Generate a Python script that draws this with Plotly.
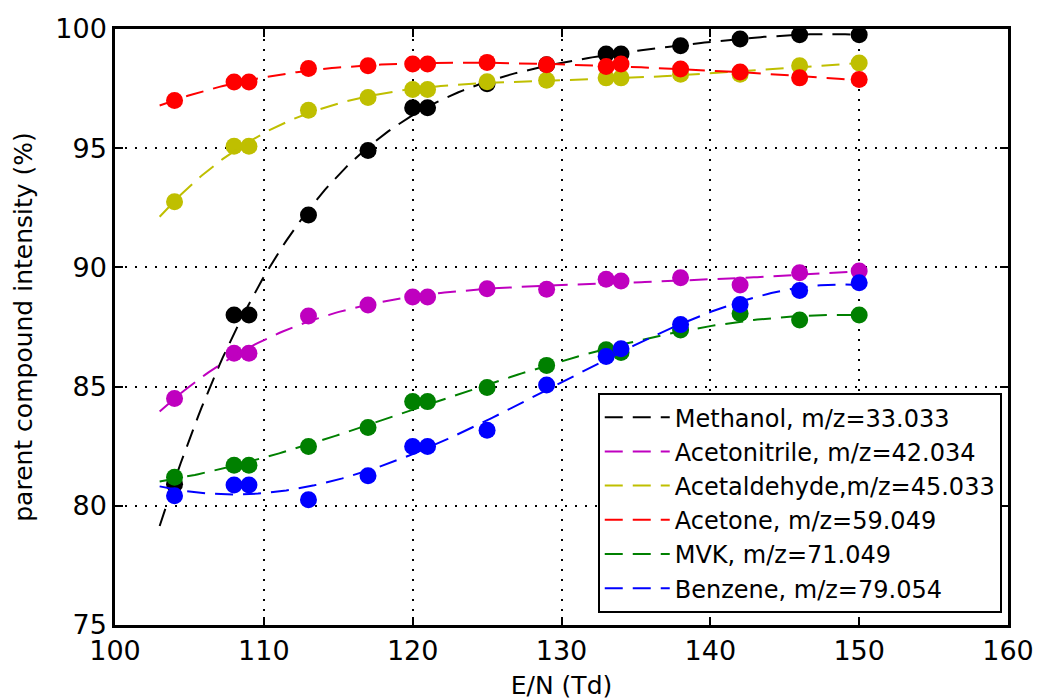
import numpy as np
import plotly.graph_objects as go

# Reduced field strength settings (Td)
en_td = [104, 108, 109, 113, 117, 120, 121, 125, 129, 133, 134, 138, 142, 146, 150]

# Parent compound intensity (%) per compound
methanol = [80.9, 88.0, 88.0, 92.2, 94.9, 96.7, 96.7, 97.7, 98.5, 98.95, 98.95, 99.3, 99.58, 99.76, 99.76]
acetonitrile = [84.5, 86.4, 86.4, 87.96, 88.42, 88.76, 88.76, 89.1, 89.08, 89.5, 89.43, 89.57, 89.26, 89.78, 89.85]
acetaldehyde = [92.75, 95.08, 95.08, 96.59, 97.13, 97.46, 97.46, 97.79, 97.85, 97.95, 97.95, 98.1, 98.1, 98.46, 98.57]
acetone = [97.0, 97.78, 97.78, 98.34, 98.46, 98.53, 98.53, 98.6, 98.5, 98.43, 98.53, 98.32, 98.2, 97.95, 97.88]
mvk = [81.2, 81.7, 81.7, 82.49, 83.28, 84.37, 84.37, 84.96, 85.89, 86.55, 86.43, 87.37, 88.07, 87.79, 88.0]
benzene = [80.42, 80.87, 80.87, 80.25, 81.26, 82.49, 82.49, 83.17, 85.07, 86.26, 86.59, 87.6, 88.44, 89.03, 89.36]

names = [
    "Methanol, m/z=33.033",
    "Acetonitrile, m/z=42.034",
    "Acetaldehyde,m/z=45.033",
    "Acetone, m/z=59.049",
    "MVK, m/z=71.049",
    "Benzene, m/z=79.054",
]
series = [methanol, acetonitrile, acetaldehyde, acetone, mvk, benzene]
colors = ["#000000", "#bf00bf", "#bfbf00", "#ff0000", "#008000", "#0000ff"]

# polynomial fit curves drawn over this E/N span
fit_start, fit_end = 103, 150
fit_degree = 4
x_fit = np.linspace(fit_start, fit_end, 200)

fig = go.Figure()
for name, vals, col in zip(names, series, colors):
    coeffs = np.polyfit(en_td, vals, fit_degree)
    fig.add_trace(go.Scatter(
        x=en_td, y=vals, mode="markers", showlegend=False,
        marker=dict(color=col, size=17, line=dict(width=0)),
        hoverinfo="x+y",
    ))
    fig.add_trace(go.Scatter(
        x=x_fit, y=np.polyval(coeffs, x_fit), mode="lines", name=name,
        line=dict(color=col, width=2, dash="18px,10px"),
    ))

axis_common = dict(
    showline=True, linecolor="black", linewidth=2.5, mirror="ticks",
    ticks="inside", ticklen=8, tickwidth=1.5, tickcolor="black",
    showgrid=True, gridcolor="black", gridwidth=1.5, griddash="2px,8px",
    zeroline=False, automargin=False,
    tickfont=dict(family="DejaVu Sans", size=27, color="black"),
)

fig.update_xaxes(
    range=[100, 160], tickvals=[100, 110, 120, 130, 140, 150, 160],
    title=dict(text="E/N (Td)", font=dict(family="DejaVu Sans", size=25, color="black"), standoff=14),
    **axis_common,
)
fig.update_yaxes(
    range=[75, 100], tickvals=[75, 80, 85, 90, 95, 100],
    title=dict(text="parent compound intensity (%)", font=dict(family="DejaVu Sans", size=25, color="black"), standoff=16),
    **axis_common,
)

fig.update_layout(
    width=1037, height=700,
    margin=dict(l=115, r=29, t=29, b=75),
    paper_bgcolor="white", plot_bgcolor="white",
    legend=dict(
        x=0.993, y=0.02, xanchor="right", yanchor="bottom",
        bgcolor="white", bordercolor="black", borderwidth=2,
        font=dict(family="DejaVu Sans", size=24, color="black"),
        itemwidth=65,
    ),
)

fig.write_html("out.html")
